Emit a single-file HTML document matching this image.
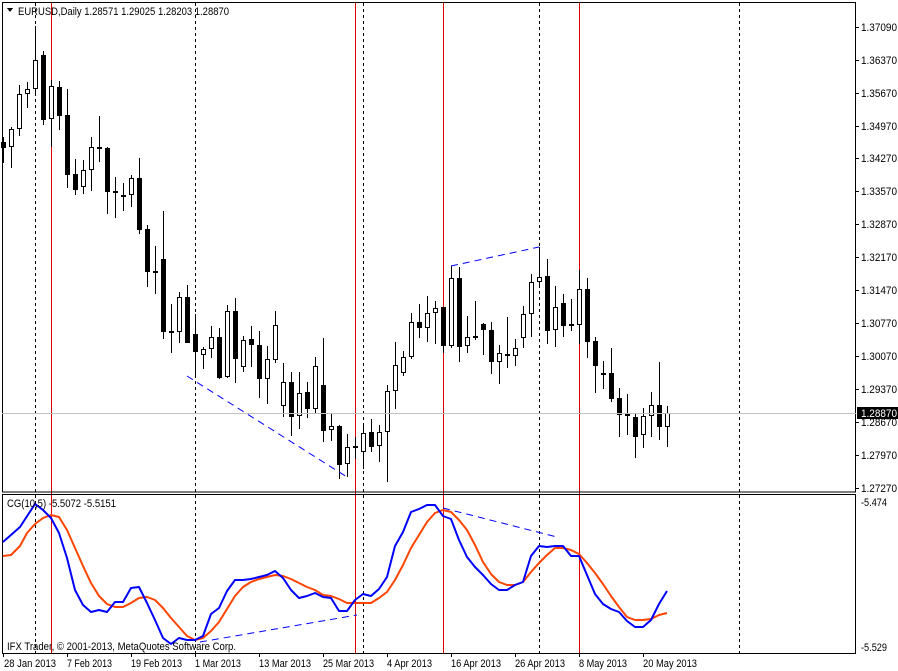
<!DOCTYPE html>
<html><head><meta charset="utf-8"><style>
html,body{margin:0;padding:0;background:#fff;}
svg{display:block;font-family:"Liberation Sans",sans-serif;font-size:11px;}
</style></head><body>
<svg id="s" width="898" height="671" viewBox="0 0 898 671" xmlns="http://www.w3.org/2000/svg" shape-rendering="crispEdges">
<rect x="0" y="0" width="898" height="671" fill="#fff"/>
<g id="grid"></g>
<g id="cand"></g>
<rect x="2.5" y="2.5" width="853" height="489.5" fill="none" stroke="#000"/>
<rect x="2.5" y="494.5" width="853" height="159" fill="none" stroke="#000"/>
<line x1="2" y1="413.5" x2="856" y2="413.5" stroke="#c0c0c0"/>
<g id="lines"></g>
<g id="axis" fill="#000"></g>
<polygon points="7,8 13,8 10,12" fill="#000"/>
<text x="18" y="15" textLength="211" lengthAdjust="spacingAndGlyphs">EURUSD,Daily  1.28571 1.29025 1.28203 1.28870</text>
<text x="7" y="507" textLength="109" lengthAdjust="spacingAndGlyphs">CG(10,5) -5.5072 -5.5151</text>
<text x="7" y="650" textLength="229" lengthAdjust="spacingAndGlyphs">IFX Trader, © 2001-2013, MetaQuotes Software Corp.</text>
<text x="861" y="506" textLength="26" lengthAdjust="spacingAndGlyphs">-5.474</text>
<text x="861" y="651" textLength="26" lengthAdjust="spacingAndGlyphs">-5.529</text>
<g id="tl">
<text x="4" y="667" textLength="52" lengthAdjust="spacingAndGlyphs">28 Jan 2013</text>
<text x="67" y="667" textLength="45" lengthAdjust="spacingAndGlyphs">7 Feb 2013</text>
<text x="131" y="667" textLength="51" lengthAdjust="spacingAndGlyphs">19 Feb 2013</text>
<text x="195" y="667" textLength="46" lengthAdjust="spacingAndGlyphs">1 Mar 2013</text>
<text x="259" y="667" textLength="52" lengthAdjust="spacingAndGlyphs">13 Mar 2013</text>
<text x="323" y="667" textLength="51" lengthAdjust="spacingAndGlyphs">25 Mar 2013</text>
<text x="387" y="667" textLength="45" lengthAdjust="spacingAndGlyphs">4 Apr 2013</text>
<text x="451" y="667" textLength="50" lengthAdjust="spacingAndGlyphs">16 Apr 2013</text>
<text x="515" y="667" textLength="50" lengthAdjust="spacingAndGlyphs">26 Apr 2013</text>
<text x="579" y="667" textLength="48" lengthAdjust="spacingAndGlyphs">8 May 2013</text>
<text x="643" y="667" textLength="54" lengthAdjust="spacingAndGlyphs">20 May 2013</text>
</g>
<g id="pl">
<text x="861" y="31" textLength="36" lengthAdjust="spacingAndGlyphs">1.37090</text>
<text x="861" y="64" textLength="36" lengthAdjust="spacingAndGlyphs">1.36370</text>
<text x="861" y="97" textLength="36" lengthAdjust="spacingAndGlyphs">1.35670</text>
<text x="861" y="130" textLength="36" lengthAdjust="spacingAndGlyphs">1.34970</text>
<text x="861" y="162" textLength="36" lengthAdjust="spacingAndGlyphs">1.34270</text>
<text x="861" y="195" textLength="36" lengthAdjust="spacingAndGlyphs">1.33570</text>
<text x="861" y="228" textLength="36" lengthAdjust="spacingAndGlyphs">1.32870</text>
<text x="861" y="261" textLength="36" lengthAdjust="spacingAndGlyphs">1.32170</text>
<text x="861" y="294" textLength="36" lengthAdjust="spacingAndGlyphs">1.31470</text>
<text x="861" y="327" textLength="36" lengthAdjust="spacingAndGlyphs">1.30770</text>
<text x="861" y="360" textLength="36" lengthAdjust="spacingAndGlyphs">1.30070</text>
<text x="861" y="393" textLength="36" lengthAdjust="spacingAndGlyphs">1.29370</text>
<text x="861" y="426" textLength="36" lengthAdjust="spacingAndGlyphs">1.28670</text>
<text x="861" y="459" textLength="36" lengthAdjust="spacingAndGlyphs">1.27970</text>
<text x="861" y="492" textLength="36" lengthAdjust="spacingAndGlyphs">1.27270</text>
</g>
<rect x="857" y="407" width="41" height="12" fill="#000"/>
<text x="861" y="417" fill="#fff" textLength="36" lengthAdjust="spacingAndGlyphs">1.28870</text>
</svg>
<script>
var NS="http://www.w3.org/2000/svg";
function el(p,t,a){var e=document.createElementNS(NS,t);for(var k in a)e.setAttribute(k,a[k]);document.getElementById(p).appendChild(e);return e;}
[35,195,363,539,739].forEach(function(x){el("grid","line",{x1:x+.5,y1:3,x2:x+.5,y2:653,stroke:"#000","stroke-dasharray":"3,3"});});
[51,355,443,579].forEach(function(x){el("grid","line",{x1:x+.5,y1:3,x2:x+.5,y2:653,stroke:"#e00000"});});
[27,60,93,126,158,191,224,257,290,323,356,389,422,455,488].forEach(function(y){el("axis","line",{x1:856,y1:y+.5,x2:859,y2:y+.5,stroke:"#000"});});
[3,67,131,195,259,323,387,451,515,579,643].forEach(function(x){el("axis","line",{x1:x+.5,y1:654,x2:x+.5,y2:657,stroke:"#000"});});
var C=[[137,162,142,148,0],[127,167,129,147,1],[85,135,94,129,1],[82,107,89,94,1],[26,95,60,89,1],[51,124,55,120,0],[80,146,86,119,1],[81,129,87,116,0],[89,187,115,175,0],[159,194,174,190,0],[160,193,170,187,1],[137,190,147,170,1],[116,161,147,148,0],[147,213,148,192,0],[177,217,191,192,0],[183,210,195,196,0],[175,206,178,195,1],[158,233,178,230,0],[225,286,229,272,0],[246,293,271,272,0],[211,338,259,332,0],[304,352,331,332,0],[292,342,297,332,1],[285,335,297,343,0],[314,377,334,352,0],[347,368,349,355,1],[326,357,337,349,1],[328,378,337,378,0],[305,377,311,377,1],[298,382,311,359,0],[336,371,340,367,1],[326,366,339,345,0],[331,397,345,379,0],[346,403,359,379,1],[311,362,325,360,1],[363,416,382,406,1],[372,435,382,417,0],[372,428,393,416,1],[382,417,392,409,0],[357,413,366,409,1],[338,441,385,431,0],[413,440,426,430,1],[425,478,426,465,0],[434,476,447,464,1],[437,458,446,447,0],[423,468,433,452,1],[419,451,432,447,0],[425,461,432,446,1],[385,481,391,432,1],[342,408,365,391,1],[351,375,357,373,1],[313,358,322,357,1],[304,337,322,328,0],[296,341,313,328,1],[301,343,308,313,1],[307,352,307,346,0],[266,347,278,346,1],[267,361,278,347,0],[316,352,337,346,1],[301,339,336,337,0],[323,354,324,330,0],[322,373,330,362,0],[345,383,353,362,1],[317,367,354,356,0],[339,365,348,356,1],[306,347,314,338,1],[274,336,282,314,1],[247,286,277,282,1],[259,343,276,331,0],[286,346,307,330,1],[294,336,303,326,0],[299,330,324,326,0],[270,343,289,325,1],[278,357,289,342,0],[337,392,341,366,0],[361,388,373,375,0],[348,401,373,399,0],[388,436,398,415,0],[394,434,414,416,0],[413,457,417,437,0],[408,447,416,435,1],[392,436,405,416,1],[362,439,405,427,0],[406,446,413,427,1]];
C.forEach(function(c,i){var x=3+8*i;
 el("cand","line",{x1:x+.5,y1:c[0],x2:x+.5,y2:c[1]+1,stroke:"#000"});
 var h=Math.max(c[3]-c[2],1);
 if(c[4]&&h>1) el("cand","rect",{x:x-1.5,y:c[2]+.5,width:4,height:h-1,fill:"#fff",stroke:"#000"});
 else el("cand","rect",{x:x-2,y:c[2],width:5,height:h+(h<2?1:0),fill:"#000"});
});
function tl(a,b,c,d){el("lines","line",{x1:a,y1:b,x2:c,y2:d,stroke:"#0000ff","stroke-dasharray":"7,5","shape-rendering":"auto"});}
tl(187,376,347,477);tl(451,266,539,247);tl(200,642,357,615);tl(443,508,557,537);
var B=[[3,542],[20,527],[35,504],[43,510],[51,518],[59,533],[67,558],[75,590],[83,605],[91,612],[99,610],[107,612],[115,602],[123,602],[131,588],[139,587],[147,603],[155,620],[163,638],[171,644],[179,638],[187,640],[195,640],[203,636],[211,614],[219,608],[227,591],[235,580],[243,580],[251,579],[259,577],[267,575],[275,571],[283,578],[291,590],[299,598],[307,596],[315,593],[323,597],[331,598],[339,611],[347,611],[355,600],[363,594],[371,596],[379,589],[387,577],[395,546],[403,532],[411,512],[419,509],[427,505],[435,505],[443,516],[451,519],[459,540],[467,557],[475,567],[483,575],[491,584],[499,590],[507,590],[515,585],[523,582],[531,556],[539,546],[547,547],[555,546],[563,546],[571,556],[579,556],[587,575],[595,594],[603,604],[611,609],[619,612],[627,621],[635,627],[643,627],[651,620],[659,604],[667,591]];
var O=[[3,556],[11,555],[20,546],[27,533],[35,524],[43,518],[51,515],[59,517],[67,530],[75,548],[83,566],[91,583],[99,596],[107,604],[115,607],[123,607],[131,603],[139,598],[147,597],[155,600],[163,608],[171,618],[179,627],[187,636],[195,640],[203,638],[211,631],[219,622],[227,609],[235,596],[243,587],[251,582],[259,579],[267,577],[275,575],[283,576],[291,579],[299,583],[307,587],[315,590],[323,595],[331,596],[339,599],[347,603],[355,603],[363,603],[371,603],[379,598],[387,592],[395,580],[403,565],[411,548],[419,535],[427,522],[435,513],[443,510],[451,512],[459,520],[467,530],[475,545],[483,562],[491,574],[499,582],[507,585],[515,585],[523,582],[531,572],[539,563],[547,555],[555,548],[563,548],[571,550],[579,554],[587,563],[595,573],[603,584],[611,596],[619,607],[627,617],[635,620],[643,620],[651,619],[659,615],[667,613]];
el("lines","polyline",{points:O.join(" "),fill:"none",stroke:"#ff4500","stroke-width":2,"shape-rendering":"auto","stroke-linejoin":"round"});
el("lines","polyline",{points:B.join(" "),fill:"none",stroke:"#0000ff","stroke-width":2,"shape-rendering":"auto","stroke-linejoin":"round"});
</script>
</body></html>
